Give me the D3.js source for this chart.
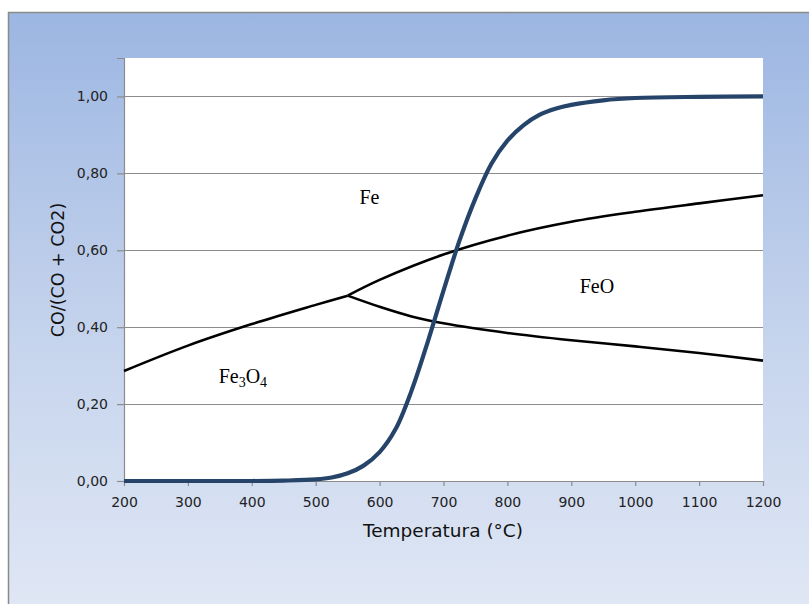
<!DOCTYPE html>
<html>
<head>
<meta charset="utf-8">
<script src="https://cdn.jsdelivr.net/npm/d3@7"></script>
<style>
  body { margin: 0; background: #fff; }
  svg { display: block; }
</style>
</head>
<body>
<svg id="chart" width="809" height="604"></svg>
<script>
// data
const xTicks = [200, 300, 400, 500, 600, 700, 800, 900, 1000, 1100, 1200]
const yTicks = [0, 0.2, 0.4, 0.6, 0.8, 1.0]

// Boudouard equilibrium curve
const boudT = [200, 300, 400, 450, 500, 525, 550, 575, 600, 625, 650, 675, 700, 725, 750, 775, 800, 825, 850, 875, 900, 950, 1000, 1100, 1200]
const boudV = [0, 0, 0, 0.001, 0.004, 0.009, 0.02, 0.04, 0.075, 0.135, 0.235, 0.36, 0.495, 0.625, 0.735, 0.825, 0.885, 0.925, 0.952, 0.968, 0.978, 0.99, 0.996, 0.999, 1.0]

// Fe3O4 / Fe
const magFeT = [200, 300, 400, 500, 550]
const magFeV = [0.286, 0.352, 0.408, 0.458, 0.482]

// Fe / FeO
const feFeoT = [550, 600, 700, 800, 900, 1000, 1100, 1200]
const feFeoV = [0.482, 0.523, 0.589, 0.638, 0.674, 0.700, 0.722, 0.743]

// FeO / Fe3O4
const feoMagT = [550, 600, 650, 700, 800, 900, 1000, 1100, 1200]
const feoMagV = [0.482, 0.453, 0.428, 0.41, 0.385, 0.366, 0.350, 0.333, 0.313]

const fmt = d3.format(".2f")

const svg = d3.select('#chart')

// background panel with gradient
const defs = svg.append('defs')
const grad = defs.append('linearGradient')
  .attr('id', 'bg').attr('x1', 0).attr('y1', 0).attr('x2', 0).attr('y2', 1)
grad.append('stop').attr('offset', '0%').attr('stop-color', '#9cb6e2')
grad.append('stop').attr('offset', '50%').attr('stop-color', '#c3d2ec')
grad.append('stop').attr('offset', '100%').attr('stop-color', '#e1e8f5')

svg.append('rect')
  .attr('x', 8.5).attr('y', 12.5)
  .attr('width', 820).attr('height', 610)
  .attr('fill', 'url(#bg)')
  .attr('stroke', '#8a8a8a')
  .attr('stroke-width', 1.5)

const margin = {top: 58, right: 46, bottom: 123, left: 124}
const width = 809 - margin.left - margin.right
const height = 604 - margin.top - margin.bottom

const g = svg.append('g')
  .attr('transform', 'translate(' + margin.left + ',' + margin.top + ')')

const x = d3.scaleLinear().domain([200, 1200]).range([0, width])
const y = d3.scaleLinear().domain([0, 1.1]).range([height, 0])

g.append('rect')
  .attr('width', width).attr('height', height)
  .attr('fill', '#fff')

// gridlines
g.append('g')
  .selectAll('line')
  .data(yTicks.filter(d => d > 0))
  .join('line')
  .attr('x1', 0).attr('x2', width)
  .attr('y1', d => Math.round(y(d)) + 0.5).attr('y2', d => Math.round(y(d)) + 0.5)
  .attr('stroke', '#8c8c8c')
  .attr('stroke-width', 1.2)

// axes
const yAxis = g.append('g')
  .call(d3.axisLeft(y).tickValues(yTicks).tickFormat(d => fmt(d).replace('.', ',')).tickSize(7).tickPadding(9))
const xAxis = g.append('g')
  .attr('transform', 'translate(0,' + height + ')')
  .call(d3.axisBottom(x).tickValues(xTicks).tickFormat(d => d).tickSize(5).tickPadding(11))

;[yAxis, xAxis].forEach(ax => {
  ax.select('.domain').attr('stroke', '#8c8c8c').attr('stroke-width', 1.2)
  ax.selectAll('.tick line').attr('stroke', '#8c8c8c').attr('stroke-width', 1.2)
  ax.selectAll('.tick text')
    .attr('fill', '#222')
    .style('font-family', 'DejaVu Sans, Verdana, sans-serif')
    .style('font-size', '14px')
})
xAxis.select('.domain').attr('d', 'M0,0.5H' + width)

// lines
const line = (T, V) => d3.line()
  .x((d, i) => x(T[i]))
  .y((d, i) => y(V[i]))
  .curve(d3.curveCatmullRom.alpha(0.5))(T)

const blackLines = [[magFeT, magFeV], [feFeoT, feFeoV], [feoMagT, feoMagV]]
g.selectAll('path.phase')
  .data(blackLines)
  .join('path')
  .attr('class', 'phase')
  .attr('fill', 'none')
  .attr('stroke', '#000')
  .attr('stroke-width', 2.6)
  .attr('stroke-linejoin', 'round')
  .attr('d', d => line(d[0], d[1]))

g.append('path')
  .attr('fill', 'none')
  .attr('stroke', '#26446a')
  .attr('stroke-width', 4.2)
  .attr('d', line(boudT, boudV))

// region labels
const serif = 'Liberation Serif, Times New Roman, serif'
g.append('text')
  .attr('x', x(584)).attr('y', y(0.72))
  .attr('text-anchor', 'middle')
  .style('font-family', serif).style('font-size', '20px')
  .text('Fe')
g.append('text')
  .attr('x', x(940)).attr('y', y(0.49))
  .attr('text-anchor', 'middle')
  .style('font-family', serif).style('font-size', '20px')
  .text('FeO')
const fe3o4 = g.append('text')
  .attr('x', x(386)).attr('y', y(0.254))
  .attr('text-anchor', 'middle')
  .style('font-family', serif).style('font-size', '20px')
fe3o4.append('tspan').text('Fe')
fe3o4.append('tspan').attr('dy', 4).style('font-size', '14px').text('3')
fe3o4.append('tspan').attr('dy', -4).text('O')
fe3o4.append('tspan').attr('dy', 4).style('font-size', '14px').text('4')

// axis titles
svg.append('text')
  .attr('x', 443).attr('y', 537)
  .attr('text-anchor', 'middle')
  .style('font-family', 'DejaVu Sans, Verdana, sans-serif')
  .style('font-size', '18.5px')
  .attr('fill', '#111')
  .text('Temperatura (°C)')

svg.append('text')
  .attr('transform', 'translate(64,270) rotate(-90)')
  .attr('text-anchor', 'middle')
  .style('font-family', 'DejaVu Sans, Verdana, sans-serif')
  .style('font-size', '17.5px')
  .attr('fill', '#111')
  .text('CO/(CO + CO2)')
</script>
</body>
</html>
